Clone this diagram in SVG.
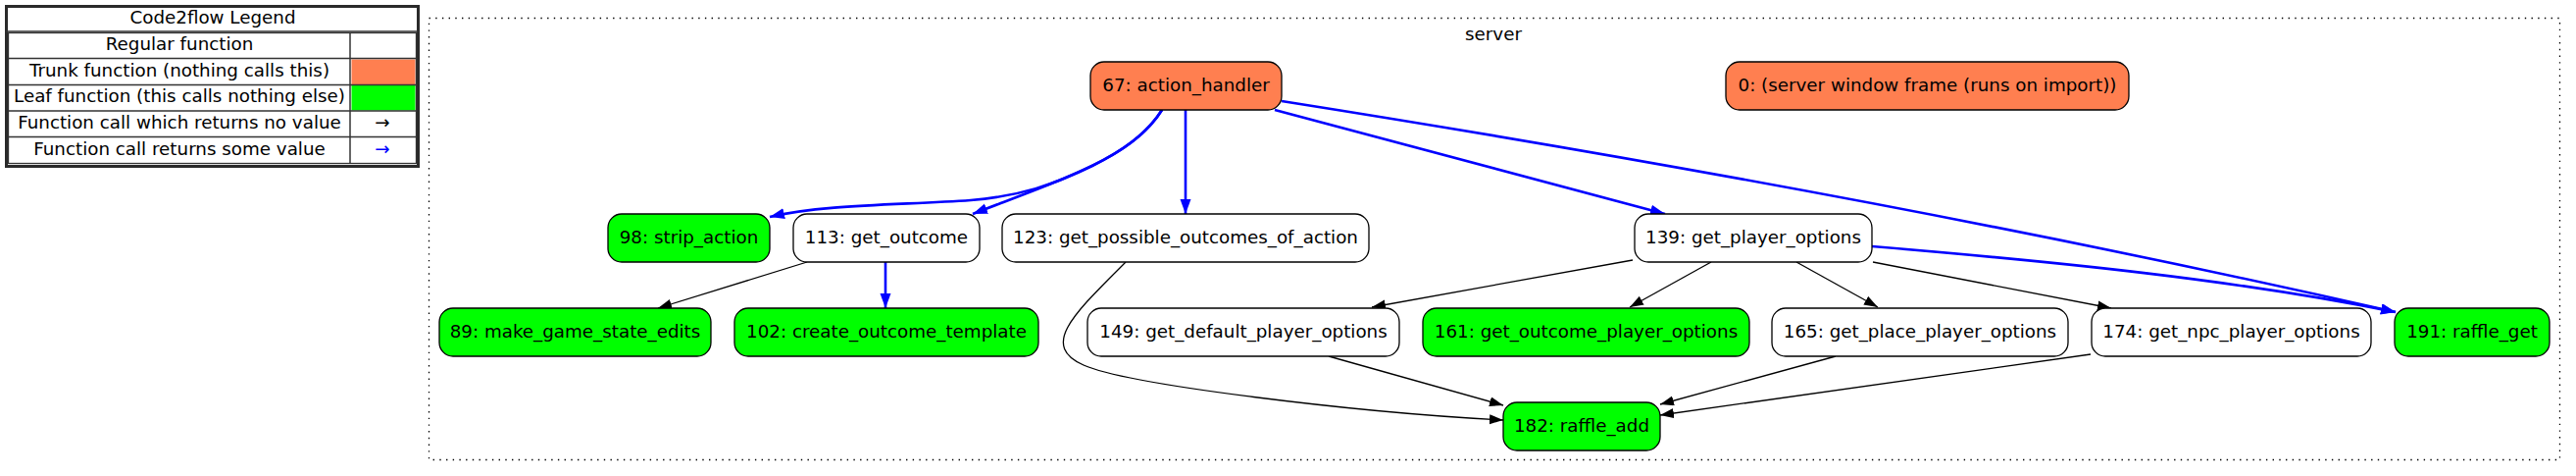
<svg xmlns="http://www.w3.org/2000/svg" width="2627" height="485" viewBox="0 0 2627 485">
<style>
text{font-family:"DejaVu Sans","Liberation Sans",sans-serif;font-size:18.3px;fill:#000;text-anchor:middle}
.n{stroke:#000;stroke-width:1.3}
.w{fill:#fff}.t{fill:#ff7f50}.l{fill:#00ff00}
.e{fill:none;stroke:#000;stroke-width:1.3}
.b{fill:none;stroke:#0000ff;stroke-width:2.6}
.g{stroke:#333;stroke-width:1.5}
</style>
<defs>
<marker id="ak" markerUnits="userSpaceOnUse" markerWidth="15" markerHeight="11" refX="14" refY="5" orient="auto"><path d="M0,0 L14,5 L0,10 z" fill="#000"/></marker>
<marker id="ab" markerUnits="userSpaceOnUse" markerWidth="16" markerHeight="12" refX="15" refY="5.5" orient="auto"><path d="M0,0 L15,5.5 L0,11 z" fill="#0000ff"/></marker>
</defs>
<rect width="2627" height="485" fill="#fff"/>
<g id="legend">
<rect x="6.5" y="6.5" width="420" height="163" fill="#fff" stroke="#2a2a2a" stroke-width="3"/>
<line class="g" x1="6" y1="32" x2="427" y2="32" stroke-width="2.5"/>
<rect x="358.5" y="60.5" width="65" height="25.5" fill="#ff7f50"/>
<rect x="358.5" y="87" width="65" height="25.5" fill="#00ff00"/>
<line class="g" x1="8" y1="59.5" x2="425" y2="59.5"/>
<line class="g" x1="8" y1="86.5" x2="425" y2="86.5"/>
<line class="g" x1="8" y1="113" x2="425" y2="113"/>
<line class="g" x1="8" y1="139.5" x2="425" y2="139.5"/>
<line class="g" x1="357" y1="33" x2="357" y2="167"/>
<rect x="8.5" y="33.5" width="416" height="133" fill="none" stroke="#333" stroke-width="1.3"/>
<text x="217" y="24">Code2flow Legend</text>
<text x="183" y="51">Regular function</text>
<text x="183" y="77.5">Trunk function (nothing calls this)</text>
<text x="183" y="104">Leaf function (this calls nothing else)</text>
<text x="183" y="131">Function call which returns no value</text>
<text x="183" y="157.5">Function call returns some value</text>
<text x="390" y="131">→</text>
<text x="390" y="157.5" style="fill:#0000ff">→</text>
</g>
<g id="cluster_server">
<rect x="437.5" y="18.5" width="2173" height="450" fill="none" stroke="#000" stroke-width="1.3" stroke-dasharray="1.4 5.3"/>
<text x="1523" y="41">server</text>
</g>
<g id="edges">
<path class="b" d="M1185,112 C1170,136 1146,153 1114,169 C1075,188 1040,200 990,204 C920,209 840,208 785,221" marker-end="url(#ab)"/>
<path class="b" d="M1185,112 C1155,160 1090,180 992,218" marker-end="url(#ab)"/>
<path class="b" d="M1209,112 L1209,218" marker-end="url(#ab)"/>
<path class="b" d="M1300,112 L1698,218" marker-end="url(#ab)"/>
<path class="b" d="M1307,103 C1700,165 2100,240 2443,318" marker-end="url(#ab)"/>
<path class="b" d="M1909,251 C2100,267 2280,285 2443,318" marker-end="url(#ab)"/>
<path class="b" d="M903,267 L903,314" marker-end="url(#ab)"/>
<path class="e" d="M823,267 L671,314" marker-end="url(#ak)"/>
<path class="e" d="M1148,267 C1095,320 1060,352 1105,372 C1150,392 1380,420 1533,428" marker-end="url(#ak)"/>
<path class="e" d="M1665,265 L1399,313" marker-end="url(#ak)"/>
<path class="e" d="M1745,267 L1662,313" marker-end="url(#ak)"/>
<path class="e" d="M1832,267 L1915,313" marker-end="url(#ak)"/>
<path class="e" d="M1910,267 L2153,314" marker-end="url(#ak)"/>
<path class="e" d="M1355,363 L1533,413" marker-end="url(#ak)"/>
<path class="e" d="M1872,363 L1693,412" marker-end="url(#ak)"/>
<path class="e" d="M2132,361 L1693,423" marker-end="url(#ak)"/>
</g>
<g id="n67"><rect class="n t" x="1112" y="63" width="195" height="49" rx="14"/><text x="1209.5" y="93">67: action_handler</text></g>
<g id="n0"><rect class="n t" x="1760" y="63" width="411" height="49" rx="14"/><text x="1965.5" y="93">0: (server window frame (runs on import))</text></g>
<g id="n98"><rect class="n l" x="620" y="218" width="165" height="49" rx="14"/><text x="702.5" y="247.5">98: strip_action</text></g>
<g id="n113"><rect class="n w" x="809" y="218" width="190" height="49" rx="14"/><text x="904" y="247.5">113: get_outcome</text></g>
<g id="n123"><rect class="n w" x="1022" y="218" width="374" height="49" rx="14"/><text x="1209" y="247.5">123: get_possible_outcomes_of_action</text></g>
<g id="n139"><rect class="n w" x="1667" y="218" width="242" height="49" rx="14"/><text x="1788" y="247.5">139: get_player_options</text></g>
<g id="n89"><rect class="n l" x="448" y="314" width="277" height="49" rx="14"/><text x="586.5" y="343.5">89: make_game_state_edits</text></g>
<g id="n102"><rect class="n l" x="749" y="314" width="310" height="49" rx="14"/><text x="904" y="343.5">102: create_outcome_template</text></g>
<g id="n149"><rect class="n w" x="1109" y="314" width="318" height="49" rx="14"/><text x="1268" y="343.5">149: get_default_player_options</text></g>
<g id="n161"><rect class="n l" x="1451" y="314" width="333" height="49" rx="14"/><text x="1617.5" y="343.5">161: get_outcome_player_options</text></g>
<g id="n165"><rect class="n w" x="1807" y="314" width="302" height="49" rx="14"/><text x="1958" y="343.5">165: get_place_player_options</text></g>
<g id="n174"><rect class="n w" x="2133" y="314" width="285" height="49" rx="14"/><text x="2275.5" y="343.5">174: get_npc_player_options</text></g>
<g id="n191"><rect class="n l" x="2442" y="314" width="158" height="49" rx="14"/><text x="2521" y="343.5">191: raffle_get</text></g>
<g id="n182"><rect class="n l" x="1533" y="410" width="160" height="49" rx="14"/><text x="1613" y="439.5">182: raffle_add</text></g>
</svg>
